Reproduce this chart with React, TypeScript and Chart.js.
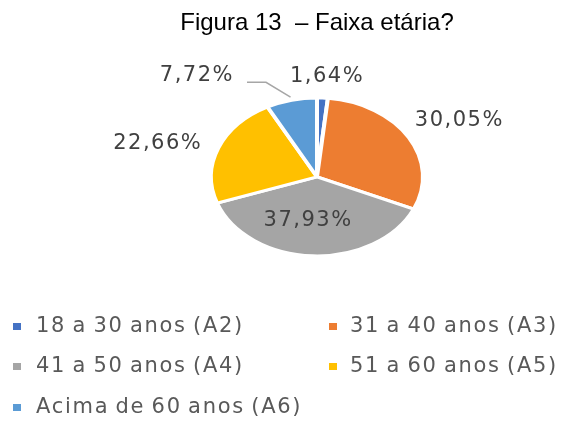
import React, { useEffect, useRef } from "react";
import { Chart, registerables } from "chart.js";

Chart.register(...registerables);

const TITLE = "Figura 13  – Faixa etária?";
const CATEGORIES = [
  "18 a 30 anos (A2)",
  "31 a 40 anos (A3)",
  "41 a 50 anos (A4)",
  "51 a 60 anos (A5)",
  "Acima de 60 anos (A6)",
];
const PERCENTAGES = [1.64, 30.05, 37.93, 22.66, 7.72];
const COLORS = ["#4472C4", "#ED7D31", "#A5A5A5", "#FFC000", "#5B9BD5"];

const SQUASH = 0.745;
// label placement per slice: [angle offset in degrees from slice middle, radius factor]
const LABEL_PLACEMENT = [
  [1.3, 1.28],
  [2.1, 1.52],
  [6.3, 0.56],
  [-5.8, 1.56],
  [-27.6, 1.71],
];
const LEADER_SLICE = 4;
const LEGEND_ROWS = [327, 367, 408];
const LEGEND_COLS = [
  [13, 36],
  [329, 350],
];

const fmt = (v: number) => v.toFixed(2).replace(".", ",") + "%";

const squashPlugin = {
  id: "squash",
  beforeDatasetsDraw(chart: any) {
    const arc = chart.getDatasetMeta(0).data[0];
    if (!arc) return;
    const { x, y } = arc;
    const ctx = chart.ctx;
    ctx.save();
    ctx.translate(x, y);
    ctx.scale(1, SQUASH);
    ctx.translate(-x, -y);
  },
  afterDatasetsDraw(chart: any) {
    chart.ctx.restore();
  },
};

const labelsPlugin = {
  id: "labelsAndLegend",
  afterDraw(chart: any) {
    const ctx = chart.ctx as CanvasRenderingContext2D;
    const meta = chart.getDatasetMeta(0);
    ctx.save();
    ctx.font = "21px 'DejaVu Sans'";
    (ctx as any).letterSpacing = "1.5px";
    ctx.fillStyle = "#404040";
    ctx.textAlign = "center";
    ctx.textBaseline = "middle";
    meta.data.forEach((arc: any, i: number) => {
      const p = arc.getProps(["x", "y", "startAngle", "endAngle", "outerRadius"], true);
      const mid = (p.startAngle + p.endAngle) / 2;
      const [off, fac] = LABEL_PLACEMENT[i];
      const a = mid + (off * Math.PI) / 180;
      const r = p.outerRadius * fac;
      const lx = p.x + Math.cos(a) * r;
      const ly = p.y + Math.sin(a) * r * SQUASH;
      const txt = fmt(PERCENTAGES[i]);
      ctx.fillText(txt, lx, ly);
      if (i === LEADER_SLICE) {
        const w = ctx.measureText(txt).width;
        const right = lx + w / 2;
        const sx = p.x + Math.cos(mid) * p.outerRadius * 1.04;
        const sy = p.y + Math.sin(mid) * p.outerRadius * 1.04 * SQUASH;
        ctx.beginPath();
        ctx.strokeStyle = "#A6A6A6";
        ctx.lineWidth = 1.5;
        ctx.moveTo(sx, sy);
        ctx.lineTo(right + 32, ly + 6.5);
        ctx.lineTo(right + 13, ly + 6.5);
        ctx.stroke();
      }
    });

    // legend
    ctx.font = "21px 'DejaVu Sans'";
    (ctx as any).letterSpacing = "1.7px";
    (ctx as any).wordSpacing = "-2px";
    ctx.textAlign = "left";
    ctx.textBaseline = "middle";
    CATEGORIES.forEach((label, i) => {
      const row = LEGEND_ROWS[Math.floor(i / 2)];
      const [mx, tx] = LEGEND_COLS[i % 2];
      ctx.fillStyle = COLORS[i];
      ctx.fillRect(mx, row - 4, 8, 7);
      ctx.fillStyle = "#595959";
      ctx.fillText(label, tx, row);
    });
    ctx.restore();
  },
};

export default function App() {
  const ref = useRef<HTMLCanvasElement>(null);
  useEffect(() => {
    document.body.style.margin = "0";
    const chart = new Chart(ref.current!, {
      type: "pie",
      data: {
        labels: CATEGORIES,
        datasets: [
          {
            data: PERCENTAGES,
            backgroundColor: COLORS,
            borderColor: "#FFFFFF",
            borderWidth: 4,
            clip: false as any,
          },
        ],
      },
      options: {
        responsive: false,
        animation: false,
        radius: 106,
        layout: { padding: { left: 62, right: 0, top: 0, bottom: 140 } },
        plugins: {
          legend: { display: false },
          tooltip: { enabled: false },
          title: {
            display: true,
            text: TITLE,
            color: "#000000",
            font: { family: "'Liberation Sans', Arial, sans-serif", size: 24, weight: "normal" },
            padding: { top: 9, bottom: 33 },
          },
        },
      } as any,
      plugins: [squashPlugin, labelsPlugin],
    });
    return () => chart.destroy();
  }, []);
  return (
    <div style={{ width: 572, height: 423 }}>
      <canvas ref={ref} width={572} height={423} style={{ display: "block" }} />
    </div>
  );
}
